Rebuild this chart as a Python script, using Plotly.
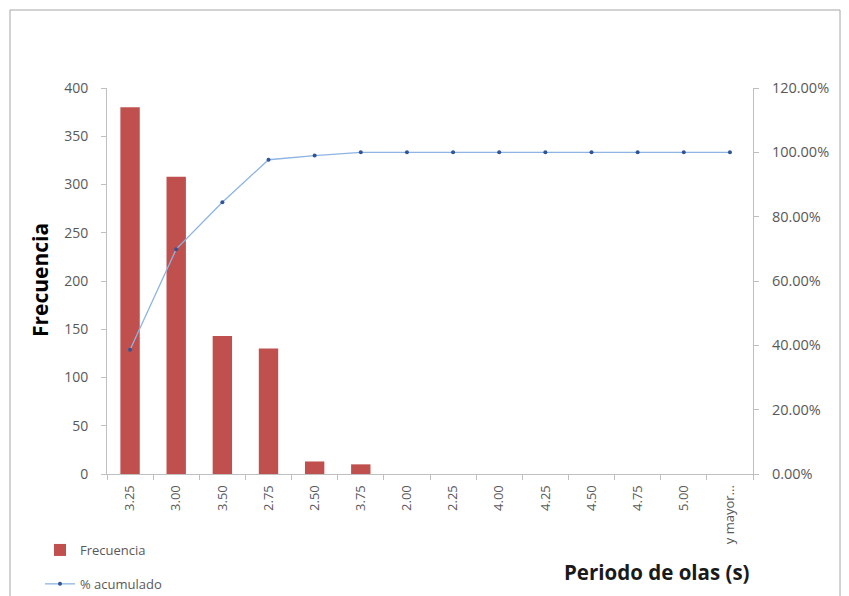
import plotly.graph_objects as go

categorias = ["3.25", "3.00", "3.50", "2.75", "2.50", "3.75", "2.00", "2.25",
              "4.00", "4.25", "4.50", "4.75", "5.00", "y mayor..."]
frecuencia = [380, 308, 143, 130, 13, 10, 0, 0, 0, 0, 0, 0, 0, 0]
pct_acumulado = [0.386, 0.699, 0.845, 0.977, 0.990, 1.0, 1.0, 1.0, 1.0, 1.0, 1.0, 1.0, 1.0, 1.0]

FONT = "Open Sans"
GRAY = "#595959"
AX = "#BFBFBF"

# the page body adds an 8px offset, so the figure is drawn 8px smaller
W, H = 841, 588
L, T, PW, PH = 99, 80, 646, 386
R, B = W - L - PW, H - T - PH

fig = go.Figure()
fig.add_trace(go.Bar(x=categorias, y=frecuencia, name="Frecuencia",
                     marker=dict(color="#C0504D", line=dict(width=0)),
                     legendgroup="a"))
fig.add_trace(go.Scatter(x=categorias, y=pct_acumulado, name="% acumulado", yaxis="y2",
                         mode="lines+markers",
                         line=dict(color="#8DB4E2", width=1.3),
                         marker=dict(color="#2F5597", size=4),
                         legendgroup="b"))

fig.update_layout(
    width=W, height=H,
    margin=dict(l=L, r=R, t=T, b=B, autoexpand=False),
    paper_bgcolor="white", plot_bgcolor="white",
    font=dict(family=FONT, color=GRAY, size=13),
    bargap=0.58,
    showlegend=True,
    legend=dict(x=32/W, y=1-527/H, xref="container", yref="container",
                xanchor="left", yanchor="top", tracegroupgap=14,
                font=dict(size=13, color=GRAY, family=FONT), bgcolor="rgba(0,0,0,0)"),
    xaxis=dict(type="category", range=[-0.5, len(categorias) - 0.5], autorange=False,
               tickangle=-90, showline=True, linecolor=AX,
               ticks="outside", tickson="boundaries", ticklen=5, tickcolor=AX,
               ticklabelstandoff=5,
               tickfont=dict(size=13, color=GRAY), showgrid=False, zeroline=False),
    yaxis=dict(range=[0, 400], dtick=50, showline=True, linecolor=AX, ticks="outside",
               ticklen=5, tickcolor=AX, showgrid=False, zeroline=False,
               ticklabelstandoff=10,
               tickfont=dict(size=14, color=GRAY)),
    yaxis2=dict(range=[0, 1.2], dtick=0.2, tickformat=".2%", overlaying="y", side="right",
                showline=True, linecolor=AX, ticks="outside", ticklen=5, tickcolor=AX,
                ticklabelstandoff=10,
                showgrid=False, zeroline=False, tickfont=dict(size=14.5, color=GRAY)),
    shapes=[dict(type="rect", xref="paper", yref="paper",
                 x0=(2-L)/PW, x1=(832-L)/PW, y0=-(620-T-PH)/PH, y1=(T+PH-2)/PH,
                 line=dict(color="#A6A6A6", width=1), layer="below")],
    annotations=[
        dict(text="<b>Periodo de olas (s)</b>", xref="paper", yref="paper",
             x=(649-L)/PW, y=-(564-T-PH)/PH, showarrow=False,
             xanchor="center", yanchor="middle",
             font=dict(size=20.5, color="#1a1a1a", family=FONT)),
        dict(text="<b>Frecuencia</b>", xref="paper", yref="paper", textangle=-90,
             x=(32-L)/PW, y=(T+PH-272)/PH, showarrow=False,
             xanchor="center", yanchor="middle",
             font=dict(size=21, color="#000000", family=FONT)),
    ],
)

fig.write_html("out.html")
